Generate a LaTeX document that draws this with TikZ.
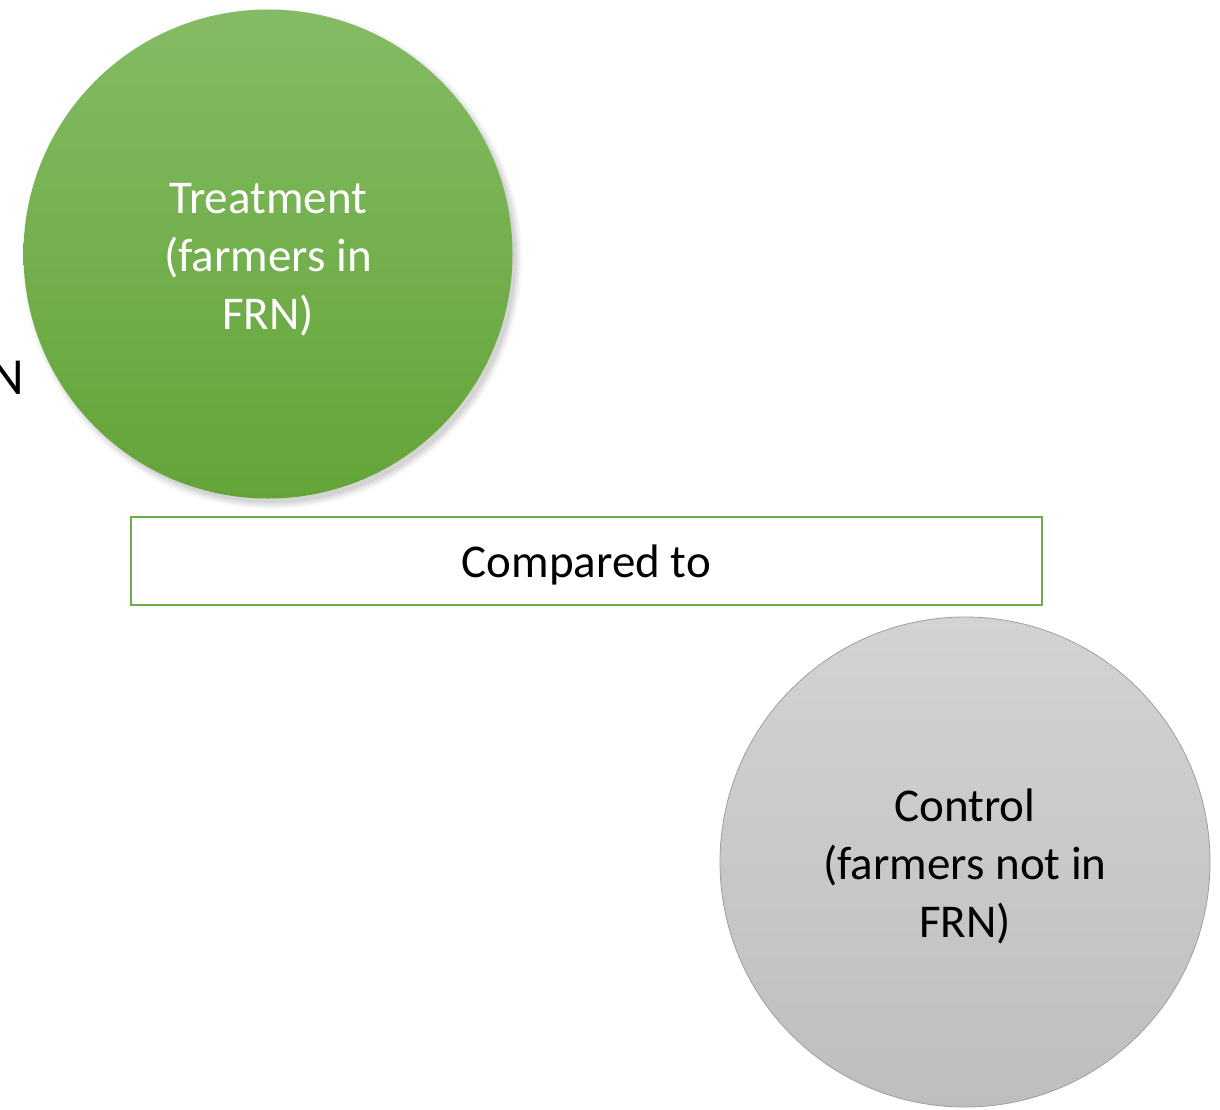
\documentclass[tikz,border=0pt]{standalone}
\usepackage{fontspec}
\setmainfont{Carlito}
\definecolor{gtop}{HTML}{84BB64}
\definecolor{gbot}{HTML}{63A437}
\definecolor{ctop}{HTML}{D3D3D3}
\definecolor{cbot}{HTML}{BEBEBE}
\definecolor{frame}{HTML}{70AD47}
\tikzset{
  bigtext/.style={font=\fontsize{47}{58}\selectfont, align=center},
  treat/.style={circle, minimum size=489pt, inner sep=0pt, shading=axis, top color=gtop, bottom color=gbot},
  ctrl/.style={circle, minimum size=490pt, inner sep=0pt, shading=axis, top color=ctop, bottom color=cbot, draw=black!38, line width=0.8pt},
  cmpbox/.style={draw=frame, line width=2.6pt, fill=white, minimum width=911pt, minimum height=88pt, inner sep=0pt}
}
\begin{document}
\begin{tikzpicture}[x=1pt,y=-1pt]
\useasboundingbox (0,0) rectangle (1220,1110);
\begin{scope}
\clip (0,0) rectangle (1220,1110);
\node[anchor=base east, bigtext, font=\fontsize{52}{62}\selectfont] (nlab) at (28,394) {N};
% soft shadow of the green circle
\foreach \r/\o in {250/0.03,248/0.04,246/0.05,244/0.06}
  \fill[black, opacity=\o] (272,259) circle (\r);
\node[treat] (t) at (268,254) {};
\node[bigtext, text=white, yshift=-6pt] (tlab) at (t.center) {Treatment\\(farmers in\\FRN)};
\node[cmpbox] (c) at (586.5,561) {};
\node[bigtext, yshift=-4pt] (clab) at (c.center) {Compared to};
\node[ctrl] (k) at (965,862) {};
\node[bigtext, yshift=-4pt] (klab) at (k.center) {Control\\(farmers not in\\FRN)};
\end{scope}
\end{tikzpicture}
\end{document}
